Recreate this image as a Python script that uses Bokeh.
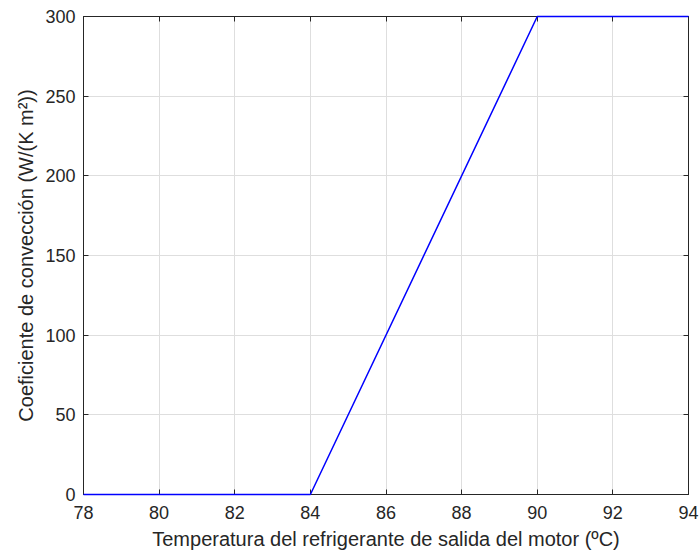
from bokeh.plotting import figure
from bokeh.models import Range1d, LinearAxis, FixedTicker
from bokeh.embed import file_html
from bokeh.resources import INLINE

# Convection coefficient as a function of engine outlet coolant temperature
temperature = [78, 84, 90, 94]
coefficient = [0, 0, 300, 300]

x_ticks = [78, 80, 82, 84, 86, 88, 90, 92, 94]
y_ticks = [0, 50, 100, 150, 200, 250, 300]

FONT = "Liberation Sans"
DARK = "#262626"
TICK_FS = "18px"
LABEL_FS = "20px"

p = figure(
    width=699, height=554,
    x_range=Range1d(78, 94), y_range=Range1d(0, 300),
    output_backend="svg", toolbar_location=None,
    min_border_left=83, min_border_right=11,
    min_border_top=16, min_border_bottom=60,
)
p.outline_line_color = DARK
p.outline_line_width = 1
p.background_fill_color = "white"
p.border_fill_color = "white"

# drawn above the axes so the flat stretches at 0 and 300 stay visible
p.line(temperature, coefficient, line_color="#0000ff", line_width=1.5,
       level="overlay")

for ax in (p.xaxis[0], p.yaxis[0]):
    ax.axis_line_color = DARK
    ax.major_tick_line_color = DARK
    ax.major_tick_in = 5
    ax.major_tick_out = 0
    ax.minor_tick_line_color = None
    ax.major_label_text_font = FONT
    ax.major_label_text_font_size = TICK_FS
    ax.major_label_text_color = DARK
    ax.axis_label_text_font = FONT
    ax.axis_label_text_font_size = LABEL_FS
    ax.axis_label_text_font_style = "normal"
    ax.axis_label_text_color = DARK

p.xaxis.ticker = FixedTicker(ticks=x_ticks)
p.yaxis.ticker = FixedTicker(ticks=y_ticks)
p.xaxis.major_label_standoff = 11
p.yaxis.major_label_standoff = 8
p.xaxis.axis_label = "Temperatura del refrigerante de salida del motor (ºC)"
p.yaxis.axis_label = "Coeficiente de convección (W/(K m²))"
p.xaxis.axis_label_standoff = 6
p.yaxis.axis_label_standoff = 5

# Box axes on top and right: inward ticks, no labels
for loc, ticks in (("above", x_ticks), ("right", y_ticks)):
    ax = LinearAxis(ticker=FixedTicker(ticks=ticks))
    ax.axis_line_color = DARK
    ax.major_tick_line_color = DARK
    ax.major_tick_in = 5
    ax.major_tick_out = 0
    ax.minor_tick_line_color = None
    ax.major_label_overrides = {t: "" for t in ticks}
    ax.major_label_standoff = 0
    p.add_layout(ax, loc)

p.grid.grid_line_color = "#dedede"
p.grid.grid_line_width = 1
p.xgrid.ticker = FixedTicker(ticks=x_ticks)
p.ygrid.ticker = FixedTicker(ticks=y_ticks)

open("out.html", "w").write(file_html(p, INLINE))
